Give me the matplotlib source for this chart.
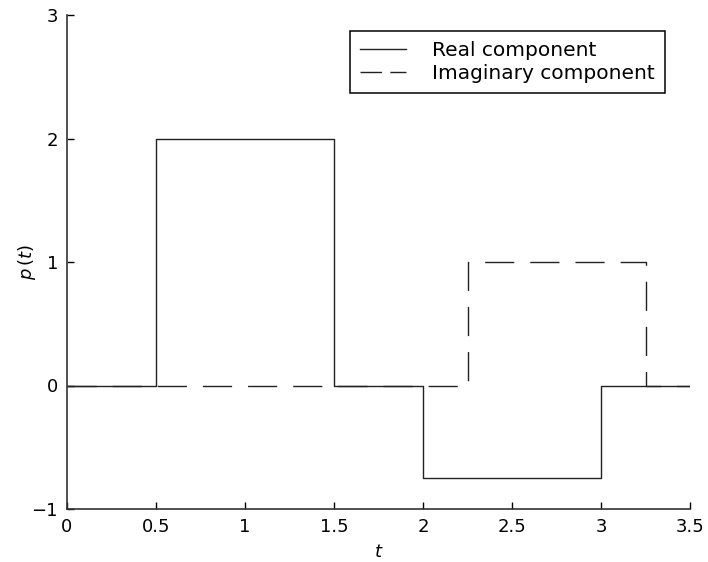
import numpy as np
import matplotlib.pyplot as plt

# step edges and levels
t_edges = [0, 0.5, 1.5, 2, 3, 3.5]
real_vals = [0, 2, 0, -0.75, 0, 0]
t_edges_imag = [0, 2.25, 3.25, 3.5]
imag_vals = [0, 1, 0, 0]

xticks = [0, 0.5, 1, 1.5, 2, 2.5, 3, 3.5]
xticklabels = ['0', '0.5', '1', '1.5', '2', '2.5', '3', '3.5']
yticks = [-1, 0, 1, 2, 3]
yticklabels = ['\u22121', '0', '1', '2', '3']

plt.rcParams['font.family'] = ['DejaVu Sans']
plt.rcParams['mathtext.fontset'] = 'dejavusans'

fig = plt.figure(figsize=(7.08, 5.62), dpi=100)
ax = fig.add_axes([67/708, 53/562, 623/708, 494/562])

ax.step(t_edges, real_vals, where='post', color='#222222', lw=1.0,
        label='Real component')
ax.step(t_edges_imag, imag_vals, where='post', color='#222222', lw=1.0,
        dashes=(21, 11.5), label='Imaginary component')

ax.set_xlim(0, 3.5)
ax.set_ylim(-1, 3)
ax.set_xticks(xticks)
ax.set_xticklabels(xticklabels)
ax.set_yticks(yticks)
ax.set_yticklabels(yticklabels)
ax.tick_params(direction='in', length=5, width=1, labelsize=13, colors='black')
ax.tick_params(axis='x', pad=6.5)
ax.tick_params(axis='y', pad=6.5)

ax.spines['top'].set_visible(False)
ax.spines['right'].set_visible(False)
ax.spines['left'].set_linewidth(1.2)
ax.spines['bottom'].set_linewidth(1.2)
ax.spines['left'].set_color('#333333')
ax.spines['bottom'].set_color('#333333')

ax.set_xlabel('$t$', fontsize=13)
ax.xaxis.set_label_coords(0.5, -0.087)
ax.xaxis.label.set_va('center')
ax.set_ylabel('$p\\,(t)$', fontsize=13)
ax.yaxis.set_label_coords(-0.064, 0.5)
ax.yaxis.label.set_va('center')

leg = ax.legend(loc='upper right', bbox_to_anchor=(0.96, 0.968), borderaxespad=0,
                fontsize=14.5, fancybox=False, edgecolor='black', framealpha=1,
                handlelength=2.3, borderpad=0.5, labelspacing=0.2,
                handletextpad=1.3)
leg.get_frame().set_linewidth(1.1)
leg.get_lines()[1].set_dashes((15.5, 6))

fig.savefig('out.png', dpi=100)
